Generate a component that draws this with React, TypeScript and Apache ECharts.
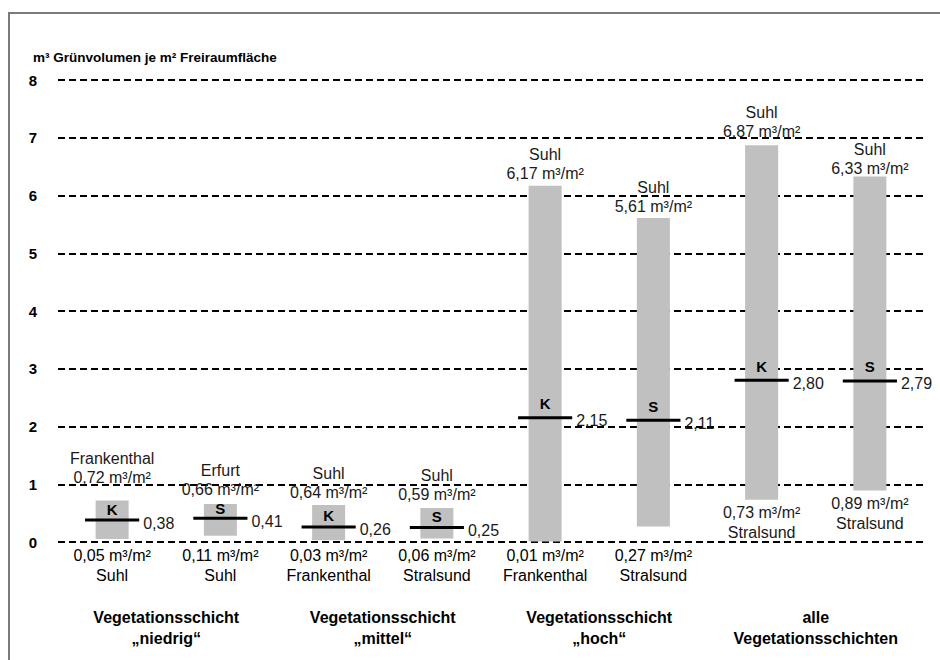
import React, { useEffect, useRef } from "react";
import * as echarts from "echarts";

// ---- data ----
const barIds = ["1", "2", "3", "4", "5", "6", "7", "8"];
const barTags = ["K", "S", "K", "S", "K", "S", "K", "S"];
const minValues = [0.05, 0.11, 0.03, 0.06, 0.01, 0.27, 0.73, 0.89];
const maxValues = [0.72, 0.66, 0.64, 0.59, 6.17, 5.61, 6.87, 6.33];
const meanValues = [0.38, 0.41, 0.26, 0.25, 2.15, 2.11, 2.8, 2.79];
const maxCities = ["Frankenthal", "Erfurt", "Suhl", "Suhl", "Suhl", "Suhl", "Suhl", "Suhl"];
const minCities = ["Suhl", "Suhl", "Frankenthal", "Stralsund", "Frankenthal", "Stralsund", "Stralsund", "Stralsund"];
const groupLabels = [
  "Vegetationsschicht\n„niedrig“",
  "Vegetationsschicht\n„mittel“",
  "Vegetationsschicht\n„hoch“",
  "alle\nVegetationsschichten",
];
const yTitle = "m³ Grünvolumen je m² Freiraumfläche";

// ---- layout (not data) ----
const topLabelGap = [13, 5, 3, 4, 3, 2, 4, -2];
const tagLift = [5, 4, 5, 5, 8, 8, 8, 8];
const FONT = "Liberation Sans, Arial, sans-serif";

const fmt = (v: number) => v.toFixed(2).replace(".", ",");

export default function App() {
  const ref = useRef<HTMLDivElement>(null);
  useEffect(() => {
    document.body.style.margin = "0";
    const chart = echarts.init(ref.current!, null, { renderer: "svg" });
    const data = barIds.map((_, i) => [i, minValues[i], maxValues[i], meanValues[i]]);
    chart.setOption({
      animation: false,
      backgroundColor: "#fff",
      title: {
        text: yTitle,
        left: 28,
        top: 45,
        textStyle: { fontFamily: FONT, fontSize: 13.5, fontWeight: "bold", color: "#000" },
      },
      graphic: [
        {
          type: "rect",
          shape: { x: 9, y: 13, width: 1000, height: 1000 },
          style: { fill: "none", stroke: "#7a7a7a", lineWidth: 2 },
          silent: true,
        },
      ],
      grid: { left: 58, right: 16, top: 80, bottom: 118 },
      xAxis: [
        {
          type: "category",
          data: barIds,
          axisLine: { show: false },
          axisTick: { show: false },
          axisLabel: { show: false },
          splitLine: { show: false },
        },
        {
          type: "category",
          data: groupLabels,
          position: "bottom",
          axisLine: { show: false },
          axisTick: { show: false },
          splitLine: { show: false },
          axisLabel: {
            interval: 0,
            margin: 65,
            fontFamily: FONT,
            fontSize: 16,
            fontWeight: "bold",
            lineHeight: 21,
            color: "#000",
          },
        },
      ],
      yAxis: {
        type: "value",
        min: 0,
        max: 8,
        interval: 1,
        axisLine: { show: false },
        axisTick: { show: false },
        axisLabel: { margin: 21, fontFamily: FONT, fontSize: 15, fontWeight: "bold", color: "#000" },
        splitLine: { lineStyle: { color: "#000", width: 2, type: [7, 4] } },
      },
      series: [
        {
          type: "custom",
          xAxisIndex: 0,
          data,
          renderItem: (params: any, api: any) => {
            const i = params.dataIndex;
            const minV = api.value(1);
            const maxV = api.value(2);
            const meanV = api.value(3);
            const x = api.coord([i, 0])[0];
            const y0 = api.coord([i, 0])[1];
            const yMin = api.coord([i, minV])[1];
            const yMax = api.coord([i, maxV])[1];
            const yMean = api.coord([i, meanV])[1];
            const band = api.size([1, 0])[0];
            const bw = band * 0.305;
            const lw = band * 0.5;
            const nearAxis = y0 - yMin < 30;
            const bottomY = nearAxis ? y0 + 3 : yMin + 3;
            return {
              type: "group",
              children: [
                {
                  type: "rect",
                  shape: { x: x - bw / 2, y: yMax, width: bw, height: yMin - yMax },
                  style: { fill: "#c0c0c0" },
                },
                {
                  type: "line",
                  shape: { x1: x - lw / 2, y1: yMean, x2: x + lw / 2, y2: yMean },
                  style: { stroke: "#000", lineWidth: 3 },
                },
                {
                  type: "text",
                  style: {
                    text: barTags[i],
                    x,
                    y: yMean - tagLift[i],
                    align: "center",
                    verticalAlign: "bottom",
                    lineHeight: 12,
                    fontFamily: FONT,
                    fontSize: 15,
                    fontWeight: "bold",
                    fill: "#000",
                  },
                },
                {
                  type: "text",
                  style: {
                    text: fmt(meanV),
                    x: x + lw / 2 + 4,
                    y: yMean + 3,
                    align: "left",
                    verticalAlign: "middle",
                    fontFamily: FONT,
                    fontSize: 16,
                    fill: "#1a1a1a",
                  },
                },
                {
                  type: "text",
                  style: {
                    text: maxCities[i] + "\n" + fmt(maxV) + " m³/m²",
                    x,
                    y: yMax - topLabelGap[i],
                    align: "center",
                    verticalAlign: "bottom",
                    lineHeight: 19,
                    fontFamily: FONT,
                    fontSize: 16,
                    fill: "#1a1a1a",
                  },
                },
                {
                  type: "text",
                  style: {
                    text: fmt(minV) + " m³/m²\n" + minCities[i],
                    x,
                    y: bottomY,
                    align: "center",
                    verticalAlign: "top",
                    lineHeight: 20,
                    fontFamily: FONT,
                    fontSize: 16,
                    fill: nearAxis ? "#000" : "#1a1a1a",
                  },
                },
              ],
            };
          },
        },
      ],
    });
    return () => chart.dispose();
  }, []);
  return <div ref={ref} style={{ width: 940, height: 660 }} />;
}
